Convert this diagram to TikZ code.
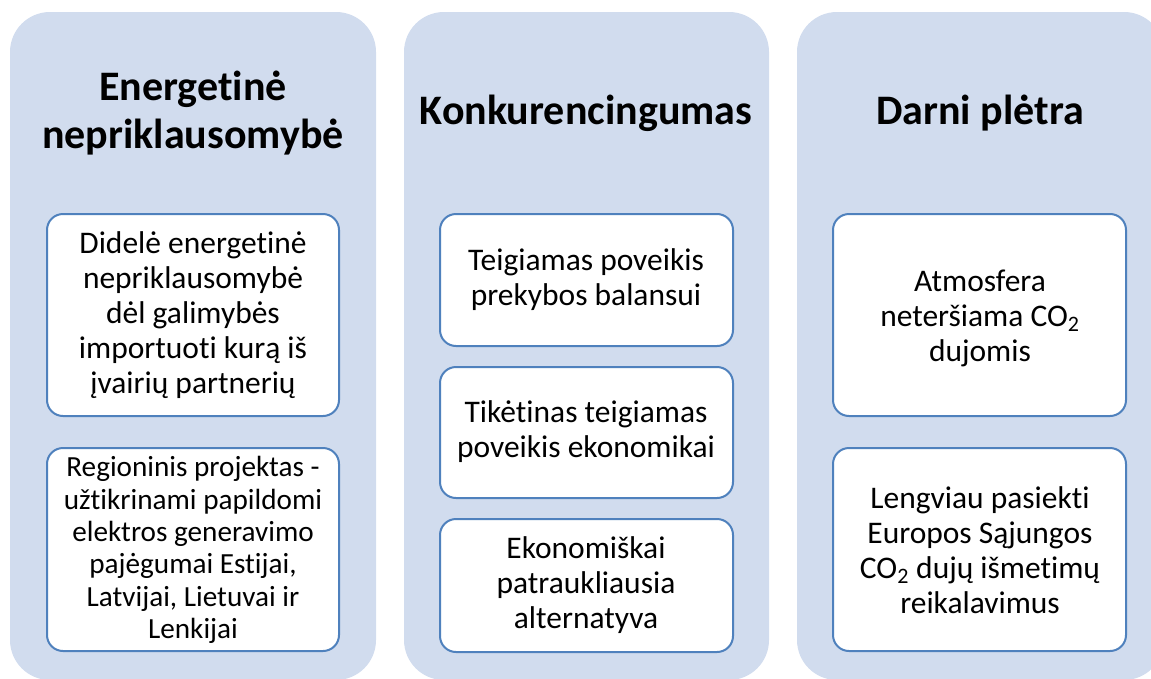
\documentclass[tikz,border=0pt]{standalone}
\usepackage{fontspec}
\setmainfont{Carlito}[Ligatures=NoCommon]
\usepackage{xcolor}
\usepackage{tikz}

\definecolor{colfill}{RGB}{209,220,238}
\definecolor{boxline}{RGB}{79,129,189}

\tikzset{
  column/.style={fill=colfill, draw=none, rounded corners=30pt},
  itembox/.style={fill=white, draw=boxline, line width=1.5pt, rounded corners=12pt},
  heading/.style={inner sep=0pt, align=center, font=\fontsize{31.5}{36}\selectfont\bfseries},
  itemtext/.style={inner sep=0pt, align=center, font=\fontsize{23.6}{26.2}\selectfont},
  smalltext/.style={inner sep=0pt, align=center, font=\fontsize{21.9}{24.2}\selectfont}
}

\begin{document}
\begin{tikzpicture}[x=0.75pt,y=0.75pt,yscale=-1,xscale=1]
\useasboundingbox (0,0) rectangle (1151,678);
\clip (0,0) rectangle (1151,678);
% columns
\draw[column] (10,12) rectangle (376,680);
\draw[column] (404,12) rectangle (769,680);
\draw[column] (797,12) rectangle (1164,680);
% column headings
\node[heading] (energetine) at (193,113) {Energetinė\\nepriklausomybė};
\node[heading] (konkur) at (586,113) {Konkurencingumas};
\node[heading] (darni) at (980,113) {Darni plėtra};
% first column
\draw[itembox] (47,214) rectangle (339,416);
\draw[itembox] (47,448) rectangle (339,651);
\node[itemtext] (didele) at (193,315) {Didelė energetinė\\nepriklausomybė\\dėl galimybės\\importuoti kurą iš\\įvairių partnerių};
\node[smalltext] (regioninis) at (193,550) {Regioninis projektas -\\užtikrinami papildomi\\elektros generavimo\\pajėgumai Estijai,\\Latvijai, Lietuvai ir\\Lenkijai};
% second column
\draw[itembox] (440,214) rectangle (733,346);
\draw[itembox] (440,367) rectangle (733,498);
\draw[itembox] (440,519) rectangle (733,652);
\node[itemtext] (teigiamas) at (586,280) {Teigiamas poveikis\\prekybos balansui};
\node[itemtext] (tiketinas) at (586,432) {Tikėtinas teigiamas\\poveikis ekonomikai};
\node[itemtext] (ekonomiskai) at (586,585) {Ekonomiškai\\patraukliausia\\alternatyva};
% third column
\draw[itembox] (833,214) rectangle (1126,416);
\draw[itembox] (833,448) rectangle (1126,651);
\node[itemtext] (atmosfera) at (980,318) {Atmosfera\\neteršiama CO\textsubscript{2}\\dujomis};
\node[itemtext] (lengviau) at (980,550) {Lengviau pasiekti\\Europos Sąjungos\\CO\textsubscript{2} dujų išmetimų\\reikalavimus};
\end{tikzpicture}
\end{document}
